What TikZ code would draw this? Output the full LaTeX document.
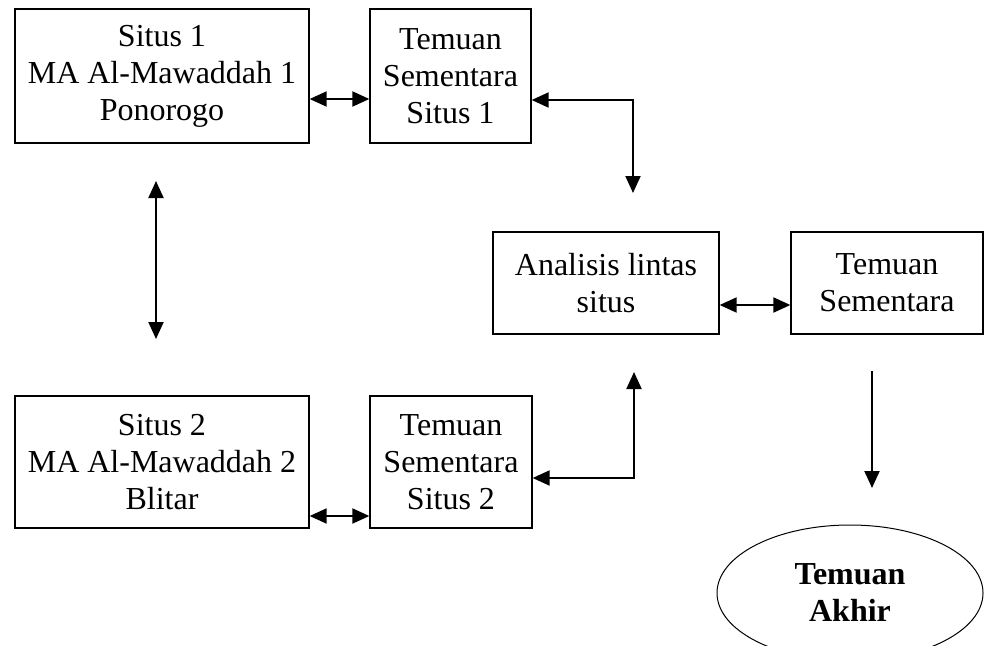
\documentclass[tikz,border=0pt]{standalone}
\usepackage{fontspec}
\setmainfont{Liberation Serif}
\usetikzlibrary{arrows.meta,shapes.geometric}

\begin{document}
\begin{tikzpicture}[x=1pt, y=-1pt, every node/.style={font=\fontsize{32}{37}\selectfont}, box/.style={draw,line width=1.3pt,align=center,inner sep=0pt}, arr/.style={line width=2pt,>={Triangle[length=17pt,width=15pt]}}]
\useasboundingbox (0,0) rectangle (984,645);
\node[box,minimum width=294,minimum height=134] (situs1) at (162,76) {Situs 1\\MA Al-Mawaddah 1\\Ponorogo};
\node[box,minimum width=161,minimum height=134] (temuan1) at (450.5,76) {Temuan\\Sementara\\Situs 1};
\node[box,minimum width=226,minimum height=102] (analisis) at (606,283) {Analisis lintas\\situs};
\node[box,minimum width=192,minimum height=102] (sementara) at (887,283) {Temuan\\Sementara};
\node[box,minimum width=294,minimum height=132] (situs2) at (162,462) {Situs 2\\MA Al-Mawaddah 2\\Blitar};
\node[box,minimum width=162,minimum height=132] (temuan2) at (451,462) {Temuan\\Sementara\\Situs 2};
\node[draw,ellipse,line width=1pt,minimum width=266,minimum height=136,align=center,font=\fontsize{32}{37}\selectfont\bfseries] (akhir) at (850,593) {Temuan\\Akhir};
\coordinate (v1) at (156,181);
\coordinate (v2) at (156,339);
\coordinate (a1) at (633,193);
\coordinate (a2) at (634,372);
\coordinate (f1) at (872,371);
\coordinate (f2) at (872,488);
\draw[arr,<->] ([yshift=-23pt]situs1.east) -- ([yshift=-23pt]temuan1.west);
\draw[arr,<->] (v1) -- (v2);
\draw[arr,<->] ([yshift=-24pt]temuan1.east) -| (a1);
\draw[arr,<->] ([yshift=-22pt]analisis.east) -- ([yshift=-22pt]sementara.west);
\draw[arr,<->] ([yshift=-16pt]temuan2.east) -| (a2);
\draw[arr,<->] ([yshift=-54pt]situs2.east) -- ([yshift=-54pt]temuan2.west);
\draw[arr,->] (f1) -- (f2);
\end{tikzpicture}
\end{document}
